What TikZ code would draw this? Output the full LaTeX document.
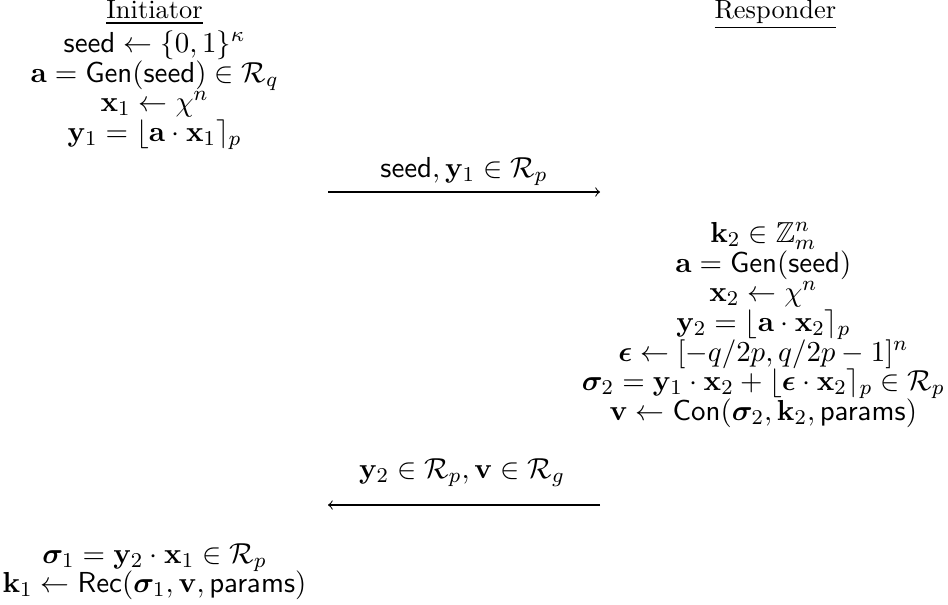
\documentclass[tikz,border=0pt]{standalone}
\usepackage{fix-cm}
\usepackage{amsmath,amssymb,bm}
\newlength\leftcolw
\newlength\rightcolw
\newcommand{\mathsz}{\fontsize{10.95}{12}\selectfont}
\newcommand{\lastline}{$\mathbf{k}_1 \leftarrow \mathsf{Rec}(\bm{\sigma}_1, \mathbf{v}, \mathsf{params})$}
\newcommand{\widestright}{$\bm{\sigma}_2 = \mathbf{y}_1\cdot\mathbf{x}_2 + \lfloor \bm{\epsilon}\cdot\mathbf{x}_2 \rceil_p \in \mathcal{R}_p$}
\begin{document}
\settowidth{\leftcolw}{\mathsz\lastline}
\settowidth{\rightcolw}{\mathsz\widestright}
\begin{tikzpicture}[x=0.3788pt,y=-0.3788pt,
  txt/.style={anchor=base,inner sep=0pt,outer sep=0pt},
  mth/.style={txt,font=\mathsz},
  msg/.style={->,line width=0.4pt}]
\useasboundingbox (0,0) rectangle (948,604);
% left column
\begin{scope}[xshift={0.5\leftcolw+1pt}]
\node[txt] (ini) at (0,19) {\underline{Initiator}};
\node[mth] (i1) at (0,52) {$\mathsf{seed} \leftarrow \{0,1\}^{\kappa}$};
\node[mth] (i2) at (0,82) {$\mathbf{a} = \mathsf{Gen}(\mathsf{seed}) \in \mathcal{R}_q$};
\node[mth] (i3) at (0,111) {$\mathbf{x}_1 \leftarrow \chi^n$};
\node[mth] (i4) at (0,141) {$\mathbf{y}_1 = \lfloor \mathbf{a}\cdot\mathbf{x}_1 \rceil_p$};
\node[mth] (i5) at (0,563) {$\bm{\sigma}_1 = \mathbf{y}_2\cdot\mathbf{x}_1 \in \mathcal{R}_p$};
\node[mth] (i6) at (0,592) {\lastline};
\end{scope}
% right column
\begin{scope}[xshift={359.1pt-1.2pt-0.5\rightcolw}]
\node[txt] (res) at (12,19) {\underline{Responder}};
\node[mth] (r1) at (0,242) {$\mathbf{k}_2 \in \mathbb{Z}_m^n$};
\node[mth] (r2) at (0,272) {$\mathbf{a} = \mathsf{Gen}(\mathsf{seed})$};
\node[mth] (r3) at (0,301) {$\mathbf{x}_2 \leftarrow \chi^n$};
\node[mth] (r4) at (0,331) {$\mathbf{y}_2 = \lfloor \mathbf{a}\cdot\mathbf{x}_2 \rceil_p$};
\node[mth] (r5) at (0,361) {$\bm{\epsilon} \leftarrow [-q/2p, q/2p-1]^n$};
\node[mth] (r6) at (0,390) {\widestright};
\node[mth] (r7) at (0,420) {$\mathbf{v} \leftarrow \mathsf{Con}(\bm{\sigma}_2, \mathbf{k}_2, \mathsf{params})$};
\end{scope}
% messages
\coordinate (m1a) at (328,192);
\coordinate (m1b) at (600,192);
\draw[msg] (m1a) -- (m1b);
\node[mth] (l1) at (464,177) {$\mathsf{seed}, \mathbf{y}_1 \in \mathcal{R}_p$};
\coordinate (m2a) at (600,505);
\coordinate (m2b) at (328,505);
\draw[msg] (m2a) -- (m2b);
\node[mth] (l2) at (462,478) {$\mathbf{y}_2 \in \mathcal{R}_p, \mathbf{v} \in \mathcal{R}_g$};
\end{tikzpicture}
\end{document}
